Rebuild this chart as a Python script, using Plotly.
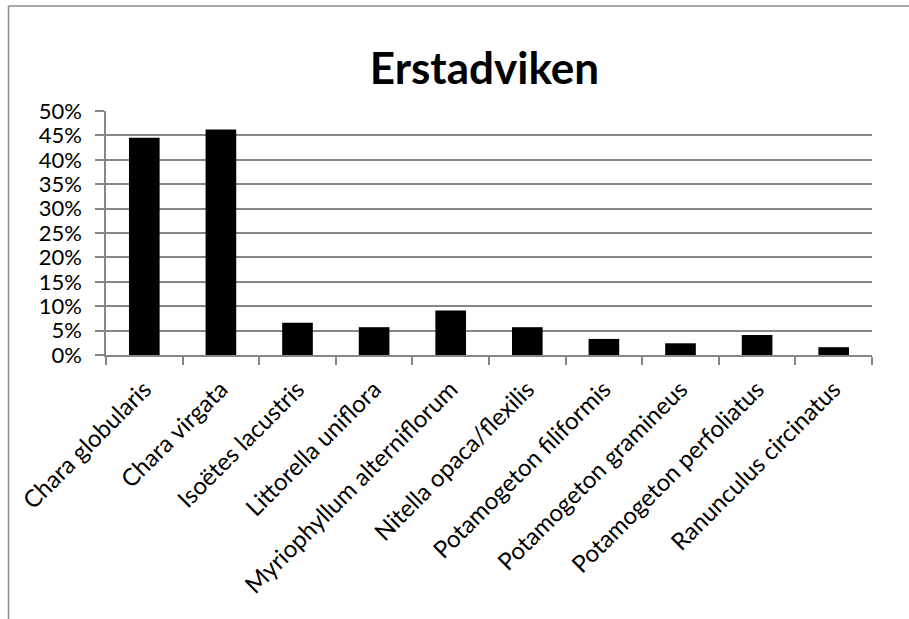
import plotly.graph_objects as go

# Share of each macrophyte species at Erstadviken
species = [
    "Chara globularis",
    "Chara virgata",
    "Isoëtes lacustris",
    "Littorella uniflora",
    "Myriophyllum alterniflorum",
    "Nitella opaca/flexilis",
    "Potamogeton filiformis",
    "Potamogeton gramineus",
    "Potamogeton perfoliatus",
    "Ranunculus circinatus",
]
share = [0.445, 0.462, 0.066, 0.057, 0.091, 0.057, 0.033, 0.024, 0.041, 0.016]
y_ticks = [i * 0.05 for i in range(11)]
y_labels = [f"{i * 5}%" for i in range(11)]

W, H = 909, 619
L, R, T, B = 106, 37, 111, 264
plot_w = W - L - R
plot_h = H - T - B

FONT = "Lato"
GRID = "#868686"

fig = go.Figure(
    go.Bar(
        x=species,
        y=share,
        marker=dict(color="#000000", line=dict(width=0)),
    )
)


def px_to_paper_x(px):
    return (px - L) / plot_w


def px_to_paper_y(py):
    return (H - B - py) / plot_h


# outer chart frame: top and left edges (the rest lies past the page)
frame = dict(color="#8a8a8a", width=1.5)
fig.add_shape(
    type="line", xref="paper", yref="paper",
    x0=px_to_paper_x(8.5), x1=px_to_paper_x(W),
    y0=px_to_paper_y(6), y1=px_to_paper_y(6),
    line=frame, layer="below",
)
fig.add_shape(
    type="line", xref="paper", yref="paper",
    x0=px_to_paper_x(8.5), x1=px_to_paper_x(8.5),
    y0=px_to_paper_y(6), y1=px_to_paper_y(H),
    line=frame, layer="below",
)

fig.update_layout(
    width=W,
    height=H,
    margin=dict(l=L, r=R, t=T, b=B, autoexpand=False),
    paper_bgcolor="white",
    plot_bgcolor="white",
    bargap=0.6,
    showlegend=False,
    title=dict(
        text="<b>Erstadviken</b>",
        font=dict(family=FONT, size=44, color="#000000"),
        x=484.5 / W,
        xanchor="center",
        xref="container",
        y=1 - 69 / H,
        yanchor="middle",
        yref="container",
    ),
    font=dict(family=FONT, color="#000000"),
)

fig.update_xaxes(
    type="category",
    tickangle=-45,
    tickfont=dict(family=FONT, size=24, color="#000000"),
    showline=True,
    linecolor=GRID,
    linewidth=1.5,
    ticks="outside",
    tickson="boundaries",
    ticklen=8,
    tickcolor=GRID,
    tickwidth=1.5,
    ticklabelstandoff=9,
    showgrid=False,
    zeroline=False,
)

fig.update_yaxes(
    range=[0, 0.5],
    tickvals=y_ticks,
    ticktext=y_labels,
    tickfont=dict(family=FONT, size=22, color="#000000"),
    showline=True,
    linecolor=GRID,
    linewidth=1.5,
    ticks="outside",
    ticklen=9,
    tickcolor=GRID,
    tickwidth=1.5,
    ticklabelstandoff=9,
    showgrid=True,
    gridcolor=GRID,
    gridwidth=1.5,
    zeroline=False,
)

# keep the page itself from scrolling
page_js = (
    "document.documentElement.style.overflow='hidden';"
    "document.body.style.overflow='hidden';"
    "document.body.style.margin='0';"
)

fig.write_html("out.html", config={"displayModeBar": False}, post_script=page_js)
